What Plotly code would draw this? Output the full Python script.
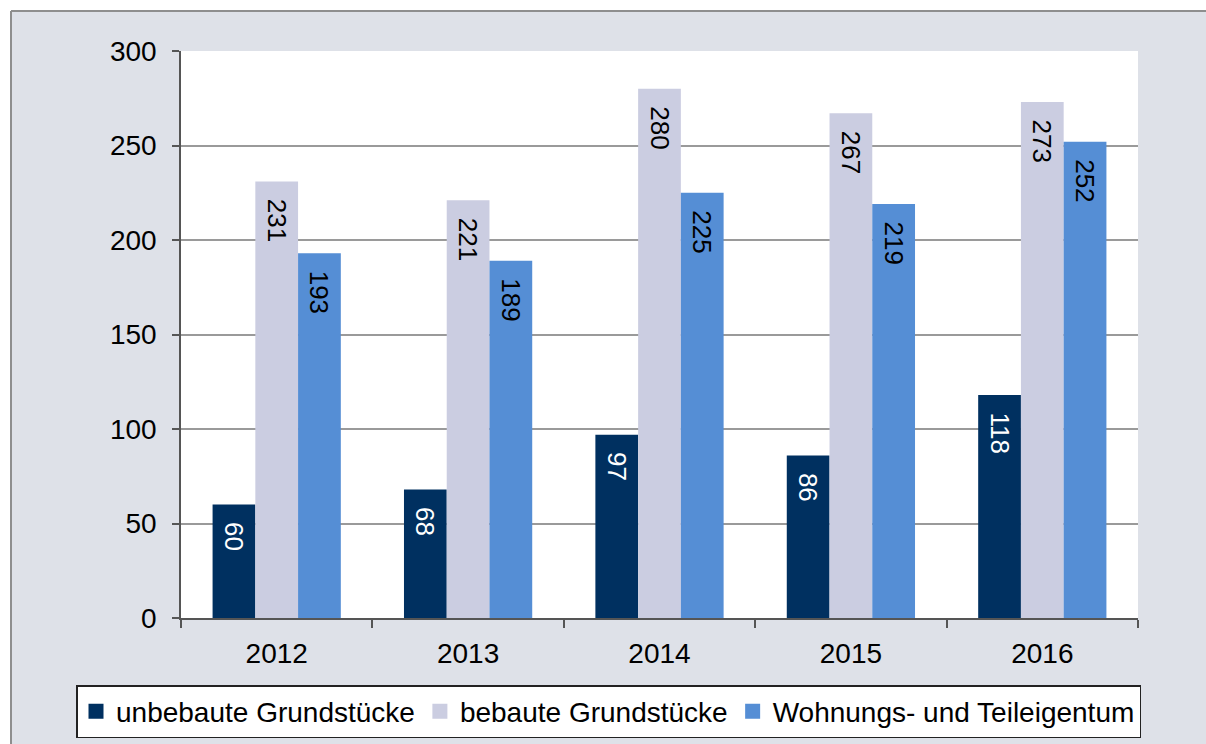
import plotly.graph_objects as go

# Kaufverträge nach Teilmarkt, 2012–2016
years = ["2012", "2013", "2014", "2015", "2016"]
unbebaut = [60, 68, 97, 86, 118]
bebaut = [231, 221, 280, 267, 273]
wohnungseigentum = [193, 189, 225, 219, 252]

series = [
    ("unbebaute Grundstücke", unbebaut, "#003060", "white"),
    ("bebaute Grundstücke", bebaut, "#cbcde1", "black"),
    ("Wohnungs- und Teileigentum", wohnungseigentum, "#558ed5", "black"),
]

W, H = 1206, 744
ML, MR, MT, MB = 181, 68, 51, 126
PW, PH = W - ML - MR, H - MT - MB

FAMILY = "Liberation Sans, Arial, sans-serif"
NBSP = "\u00a0"


def px_x(p):
    return (p - ML) / PW


def px_y(p):
    return (H - MB - p) / PH


fig = go.Figure()
for name, vals, color, tcolor in series:
    fig.add_trace(go.Bar(
        name=name,
        x=years,
        y=vals,
        marker=dict(color=color, line=dict(width=0)),
        # value printed along the bar, a little below its top
        text=[NBSP * 2 + str(v) for v in vals],
        textposition="inside",
        insidetextanchor="end",
        textangle=90,
        textfont=dict(family=FAMILY, size=26, color=tcolor),
        showlegend=False,
        legendgroup=name,
        hovertemplate="%{x}: %{y}<extra>" + name + "</extra>",
    ))

# legend entries with larger square swatches
for name, vals, color, tcolor in series:
    fig.add_trace(go.Scatter(
        name=name,
        x=[None], y=[None],
        mode="markers",
        marker=dict(symbol="square", size=15, color=color),
        legendgroup=name,
        showlegend=True,
    ))

bg = "#dee1e8"
shapes = [
    # white margin strips outside the chart frame
    dict(type="rect", xref="paper", yref="paper", x0=px_x(-5), x1=px_x(11), y0=px_y(-5), y1=px_y(760),
         fillcolor="white", line=dict(width=0), layer="below"),
    dict(type="rect", xref="paper", yref="paper", x0=px_x(-5), x1=px_x(1220), y0=px_y(-5), y1=px_y(11),
         fillcolor="white", line=dict(width=0), layer="below"),
    # frame lines
    dict(type="line", xref="paper", yref="paper", x0=px_x(11), x1=px_x(11), y0=px_y(11), y1=px_y(760),
         line=dict(color="#8e8e8e", width=2)),
    dict(type="line", xref="paper", yref="paper", x0=px_x(11), x1=px_x(1220), y0=px_y(11), y1=px_y(11),
         line=dict(color="#8e8e8e", width=2)),
]

font = dict(family=FAMILY, size=28, color="black")

fig.update_layout(
    width=W, height=H,
    margin=dict(l=ML, r=MR, t=MT, b=MB, pad=0, autoexpand=False),
    paper_bgcolor=bg,
    plot_bgcolor="white",
    barmode="group",
    bargap=0.33,
    bargroupgap=0,
    font=font,
    shapes=shapes,
    showlegend=True,
    legend=dict(
        orientation="h",
        x=px_x(76), xanchor="left",
        y=px_y(685), yanchor="top",
        bgcolor="white",
        bordercolor="#222222",
        borderwidth=1.5,
        font=font,
        itemsizing="trace",
        itemclick=False,
        itemdoubleclick=False,
    ),
    uniformtext=dict(mode="show", minsize=26),
)

fig.update_xaxes(
    type="category",
    tickson="boundaries",
    ticks="outside",
    ticklen=8,
    tickcolor="#555555",
    tickwidth=1.5,
    showline=True,
    linecolor="#555555",
    linewidth=1.5,
    showgrid=False,
    tickfont=font,
    ticklabelstandoff=10,
)

fig.update_yaxes(
    range=[0, 300],
    tickvals=[0, 50, 100, 150, 200, 250, 300],
    ticks="outside",
    ticklen=7,
    tickcolor="#555555",
    tickwidth=1.5,
    showline=True,
    linecolor="#555555",
    linewidth=1.5,
    showgrid=True,
    gridcolor="#9a9a9a",
    gridwidth=2,
    zeroline=False,
    tickfont=font,
    ticklabelstandoff=10,
)

fig.write_html("out.html")
